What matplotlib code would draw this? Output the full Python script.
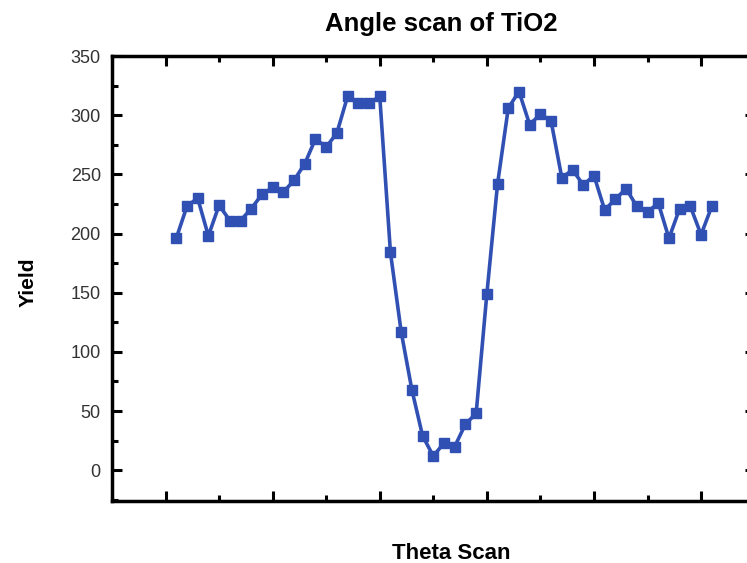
import numpy as np
import matplotlib
matplotlib.use("Agg")
import matplotlib.pyplot as plt
from matplotlib.ticker import MultipleLocator, NullFormatter

plt.rcParams['font.family'] = ['Liberation Sans', 'DejaVu Sans']

theta = np.arange(1, 52)
yield_counts = [
    196, 223, 230, 198, 224, 211, 211, 221, 233, 239,
    235, 245, 259, 280, 273, 285, 316, 310, 310, 316,
    184, 117, 68, 29, 12, 23, 20, 39, 48, 149,
    242, 306, 320, 292, 301, 295, 247, 254, 241, 249,
    220, 229, 238, 223, 218, 226, 196, 221, 223, 199,
    223,
]

fig = plt.figure(figsize=(7.47, 5.63), dpi=100)
ax = fig.add_axes([0.1499, 0.1101, 0.8603, 0.7904])

ax.plot(theta, yield_counts, color='#3150b4', linewidth=2.6,
        marker='s', markersize=6.8)

ax.set_xlim(-5, 55)
ax.set_ylim(-26, 350)
ax.xaxis.set_major_locator(MultipleLocator(10))
ax.xaxis.set_minor_locator(MultipleLocator(5))
ax.yaxis.set_major_locator(MultipleLocator(50))
ax.yaxis.set_minor_locator(MultipleLocator(25))
ax.xaxis.set_major_formatter(NullFormatter())

ax.tick_params(which='both', direction='in', top=True, right=True,
               width=2.2, labelsize=13, labelcolor='#333333', pad=8)
ax.tick_params(which='major', length=7.5)
ax.tick_params(which='minor', length=4.5)
for s in ax.spines.values():
    s.set_linewidth(2.5)

ax.set_title("Angle scan of TiO2", fontsize=18.5, fontweight='bold',
             pad=18, x=0.512)
ax.set_ylabel("Yield", fontsize=15, fontweight='bold')
ax.yaxis.set_label_coords(-0.116, 0.492)
ax.set_xlabel("Theta Scan", fontsize=16, fontweight='bold')
ax.xaxis.set_label_coords(0.5275, -0.094)

fig.savefig("out.png", dpi=100)
